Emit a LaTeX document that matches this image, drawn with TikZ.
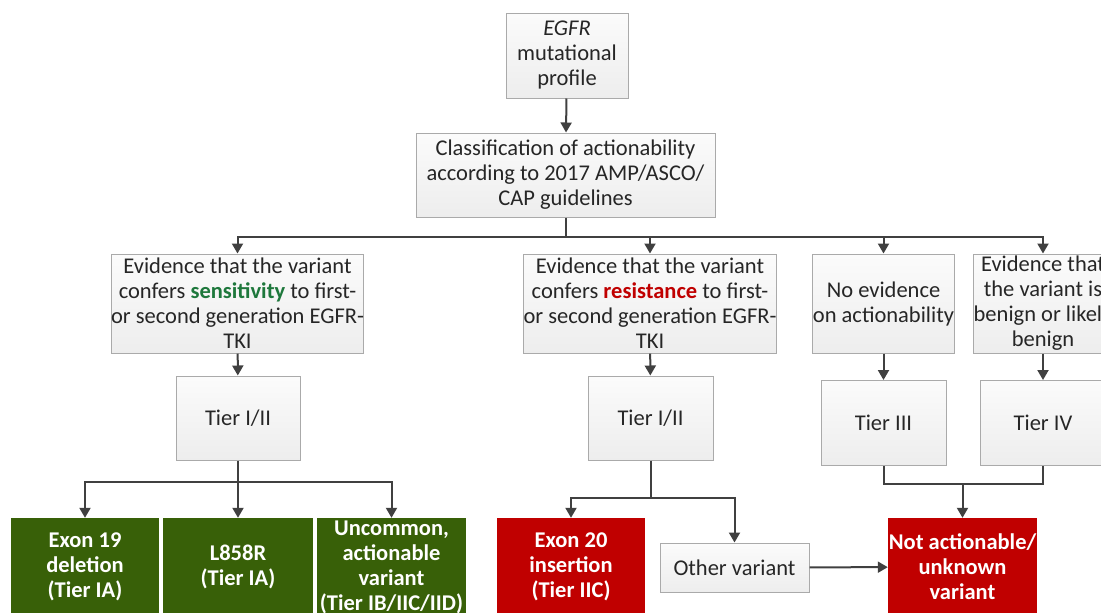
\documentclass[tikz,border=0pt]{standalone}
\usepackage{fontspec}
\setmainfont{Carlito}
\usepackage{tikz}
\usetikzlibrary{arrows.meta,positioning}

\definecolor{boxline}{RGB}{170,170,170}
\definecolor{arrline}{RGB}{64,64,64}
\definecolor{grnfill}{RGB}{56,96,8}
\definecolor{redfill}{RGB}{192,0,0}
\definecolor{sensgreen}{RGB}{30,120,60}

\begin{document}
\begin{tikzpicture}[x=1pt,y=-1pt,
    txt/.style={font=\fontsize{22.5}{25}\selectfont, align=center, inner sep=0pt},
    gbox/.style={txt, draw=boxline, line width=1pt, top color=gray!3, bottom color=gray!14, text=black!85},
    grnbox/.style={txt, fill=grnfill, text=white, font=\fontsize{22.5}{25}\selectfont\bfseries},
    redbox/.style={txt, fill=redfill, text=white, font=\fontsize{22.5}{25}\selectfont\bfseries},
    conn/.style={arrline, line width=2pt},
    arr/.style={conn, -{Triangle[width=11pt,length=10pt]}}]
    \useasboundingbox (0,0) rectangle (1101,613);

    % top of the tree
    \node [gbox, minimum width=122, minimum height=85] (egfr) at (567,55.5)
      {\textit{EGFR}\\mutational\\profile};
    \node [gbox, minimum width=299, minimum height=84] (classif) at (565.5,175)
      {Classification of actionability\\according to 2017 AMP/ASCO/\\CAP guidelines};

    % evidence level
    \node [gbox, minimum width=249, minimum height=99] (sens) at (237.5,303.5)
      {Evidence that the variant\\confers \textcolor{sensgreen}{\bfseries sensitivity} to first-\\or second generation EGFR-\\TKI};
    \node [gbox, minimum width=248, minimum height=99] (resist) at (650,303.5)
      {Evidence that the variant\\confers \textcolor{redfill}{\bfseries resistance} to first-\\or second generation EGFR-\\TKI};
    \node [gbox, minimum width=139, minimum height=99] (noevid) at (883.5,303.5)
      {No evidence\\on actionability};
    \node [gbox, minimum width=140, minimum height=99] (benign) at (1043,303.5)
      {Evidence that\\the variant is\\benign or likely\\benign};

    % tiers
    \node [gbox, minimum width=124, minimum height=84] (tierA) at (238,418) {Tier I/II};
    \node [gbox, minimum width=125, minimum height=84] (tierB) at (650.5,418) {Tier I/II};
    \node [gbox, minimum width=125, minimum height=85] (tierIII) at (883.5,423) {Tier III};
    \node [gbox, minimum width=126, minimum height=85] (tierIV) at (1043,423) {Tier IV};

    % variants
    \node [grnbox, minimum width=148, minimum height=98] (exon19) at (85,567)
      {Exon 19\\deletion\\(Tier IA)};
    \node [grnbox, minimum width=150, minimum height=98] (lEight) at (238,567)
      {L858R\\(Tier IA)};
    \node [grnbox, minimum width=149, minimum height=98] (uncommon) at (391.5,567)
      {Uncommon,\\actionable\\variant\\(Tier IB/IIC/IID)};
    \node [redbox, minimum width=148, minimum height=98] (exon20) at (571,567)
      {Exon 20\\insertion\\(Tier IIC)};
    \node [gbox, minimum width=149, minimum height=49] (other) at (734.5,567.5)
      {Other variant};
    \node [redbox, minimum width=149, minimum height=98] (notact) at (962.5,567)
      {Not actionable/\\unknown\\variant};

    % connectors
    \draw [arr] (egfr) -- (classif);
    \coordinate (splitTop) at ([yshift=-19pt]classif.south);
    \draw [conn] (classif.south) -- (splitTop);
    \foreach \n in {sens,resist,noevid,benign}
      \draw [arr] (splitTop) -| (\n.north);
    \draw [arr] (sens) -- (tierA);
    \draw [arr] (resist) -- (tierB);
    \draw [arr] (noevid) -- (tierIII);
    \draw [arr] (benign) -- (tierIV);

    \coordinate (splitA) at ([yshift=-21pt]tierA.south);
    \draw [conn] (tierA.south) -- (splitA);
    \foreach \n in {exon19,lEight,uncommon}
      \draw [arr] (splitA) -| (\n.north);

    \coordinate (splitB) at ([yshift=-37pt]tierB.south);
    \draw [conn] (tierB.south) -- (splitB);
    \foreach \n in {exon20,other}
      \draw [arr] (splitB) -| (\n.north);

    \coordinate (merge) at ([yshift=-18pt]tierIII.south -| notact.north);
    \draw [conn] (tierIII.south) |- (merge);
    \draw [conn] (tierIV.south) |- (merge);
    \draw [arr] (merge) -- (notact.north);
    \draw [arr] (other) -- (notact);
  \end{tikzpicture}
\end{document}
